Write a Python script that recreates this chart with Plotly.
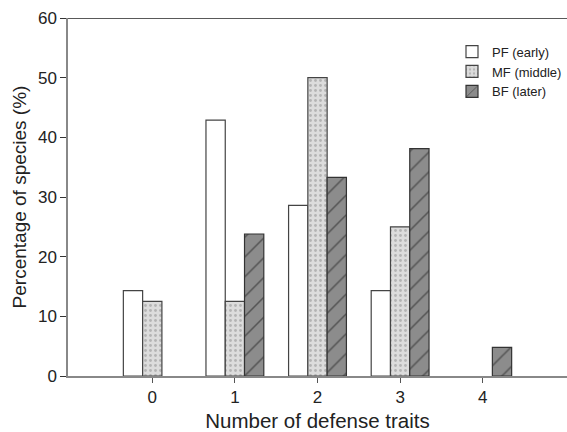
import plotly.graph_objects as go

# Share of species (%) by number of defence traits, per forest succession stage
traits = [0, 1, 2, 3, 4]
tick_labels = ["0", "1", "2", "3", "4"]
pf_early = [14.3, 42.9, 28.6, 14.3, 0]
mf_middle = [12.5, 12.5, 50.0, 25.0, 0]
bf_later = [0, 23.8, 33.3, 38.1, 4.8]

font_family = "Liberation Sans, Arial, sans-serif"


def drawn(values):
    # empty categories are left blank instead of drawing a flat bar on the baseline
    return [v if v > 0 else None for v in values]


fig = go.Figure()
fig.add_trace(go.Bar(
    x=traits, y=drawn(pf_early), name="PF (early)",
    marker=dict(color="white", line=dict(color="#444444", width=1.2)),
))
fig.add_trace(go.Bar(
    x=traits, y=drawn(mf_middle), name="MF (middle)",
    marker=dict(color="#d9d9d9", line=dict(color="#444444", width=1.2),
                pattern=dict(shape=".", fgcolor="#8a8a8a", bgcolor="#dcdcdc",
                             size=5, solidity=0.25)),
))
fig.add_trace(go.Bar(
    x=traits, y=drawn(bf_later), name="BF (later)",
    marker=dict(color="#8c8c8c", line=dict(color="#333333", width=1.2),
                pattern=dict(shape="/", fgcolor="#1a1a1a", bgcolor="#8c8c8c",
                             size=14, solidity=0.11)),
))

fig.update_layout(
    width=567, height=432,
    margin=dict(l=68, r=0, t=18, b=56),
    paper_bgcolor="white", plot_bgcolor="white",
    barmode="group", bargap=0.3, bargroupgap=0,
    font=dict(family=font_family, color="#222222"),
    showlegend=True,
    legend=dict(x=0.77, y=0.948, xanchor="left", yanchor="top",
                font=dict(size=13, family=font_family, color="#222222"),
                bgcolor="rgba(0,0,0,0)", tracegroupgap=0, itemwidth=30,
                borderwidth=0),
    xaxis=dict(
        range=[-1.02, 5.02], tickmode="array", tickvals=traits, ticktext=tick_labels,
        showgrid=False, zeroline=False, showline=True, linecolor="#888888", linewidth=1.5,
        ticks="outside", ticklen=5, tickcolor="#555555", tickwidth=1,
        tickfont=dict(size=17), automargin=False,
        title=dict(text="Number of defense traits", font=dict(size=20.5), standoff=8),
    ),
    yaxis=dict(
        range=[0, 60], tickvals=[0, 10, 20, 30, 40, 50, 60],
        showgrid=False, zeroline=False, showline=True, linecolor="#888888", linewidth=1.5,
        ticks="outside", ticklen=6, tickcolor="#333333", tickwidth=1.2,
        tickfont=dict(size=17), automargin=False,
        title=dict(text="Percentage of species (%)", font=dict(size=19), standoff=6),
    ),
    shapes=[dict(type="line", xref="paper", yref="y", x0=0, x1=1, y0=60, y1=60,
                 line=dict(color="#222222", width=1.5))],
)

fig.write_html("out.html")
